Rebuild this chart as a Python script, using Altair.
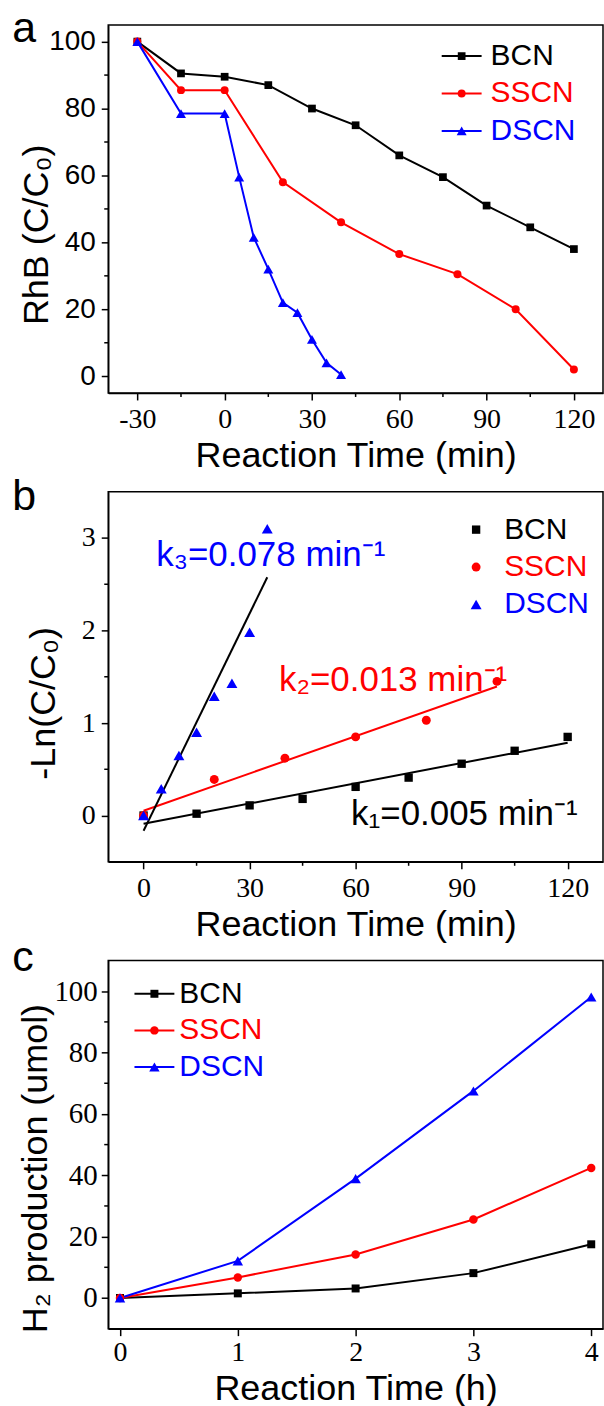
import altair as alt
import pandas as pd

SERIES = ["BCN", "SSCN", "DSCN"]
COLORS = ["#000000", "#ff0000", "#0000ff"]
SHAPES = ["square", "circle", "triangle-up"]

SANS = "Liberation Sans"
SERIF = "Liberation Serif"

# (a) RhB concentration, C/C0 (%) vs. time (min)
a_t_bcn = [-30, -15, 0, 15, 30, 45, 60, 75, 90, 105, 120]
a_c_bcn = [100, 90.5, 89.5, 87, 80, 75, 66, 59.5, 51, 44.5, 38]
a_t_sscn = [-30, -15, 0, 20, 40, 60, 80, 100, 120]
a_c_sscn = [100, 85.5, 85.5, 58, 46, 36.5, 30.5, 20, 2]
a_t_dscn = [-30, -15, 0, 5, 10, 15, 20, 25, 30, 35, 40]
a_c_dscn = [100, 78.5, 78.5, 59.5, 41.5, 32, 22, 19, 11, 4, 0.5]

# (b) -ln(C/C0) vs. time (min)
b_t_bcn = [0, 15, 30, 45, 60, 75, 90, 105, 120]
b_y_bcn = [0, 0.02, 0.11, 0.18, 0.31, 0.41, 0.56, 0.70, 0.85]
b_t_sscn = [0, 20, 40, 60, 80, 100]
b_y_sscn = [0, 0.39, 0.62, 0.85, 1.03, 1.45]
b_t_dscn = [0, 5, 10, 15, 20, 25, 30, 35]
b_y_dscn = [0, 0.29, 0.65, 0.90, 1.29, 1.43, 1.98, 3.10]

# rate-constant labels: text, anchor (x, y), colour
k_text = ["k\u2083=0.078 min\u207b\u00b9", "k\u2082=0.013 min\u207b\u00b9", "k\u2081=0.005 min\u207b\u00b9"]
k_x = [3.6, 38.3, 58.7]
k_y = [2.70, 1.345, -0.10]
k_color = ["#0000ff", "#ff0000", "#000000"]

# (c) H2 production (umol) vs. time (h)
c_t = [0, 1, 2, 3, 4]
c_bcn = [0, 1.5, 3.1, 8.1, 17.5]
c_sscn = [0, 6.7, 14.2, 25.6, 42.4]
c_dscn = [0, 12.1, 38.9, 67.5, 98.1]

# axis ticks
a_x_major = [-30, 0, 30, 60, 90, 120]
a_x_minor = [-15, 15, 45, 75, 105]
a_y_major = [0, 20, 40, 60, 80, 100]
a_y_minor = [10, 30, 50, 70, 90]
b_x_major = [0, 30, 60, 90, 120]
b_x_minor = [15, 45, 75, 105]
b_y_major = [0, 1, 2, 3]
b_y_minor = [0.5, 1.5, 2.5]
c_x_major = [0, 1, 2, 3, 4]
c_y_major = [0, 20, 40, 60, 80, 100]
c_y_minor = [10, 30, 50, 70, 90]

W = 496
HYPHEN_LABEL = "replace(datum.label, '\u2212', '-')"


def long_df(pairs):
    rows = []
    for name, ts, vs in pairs:
        for t, v in zip(ts, vs):
            rows.append({"series": name, "t": t, "v": v})
    return pd.DataFrame(rows)


def make_x(field, domain, values, title, title_y=74, label_pad=6):
    return alt.X(
        field, type="quantitative",
        scale=alt.Scale(domain=domain, nice=False, zero=False),
        axis=alt.Axis(values=values, title=title, titleY=title_y, titleBaseline="alphabetic",
                      labelFlush=False, labelOverlap=False, labelPadding=label_pad,
                      labelFont=SERIF, labelFontSize=28, labelExpr=HYPHEN_LABEL),
    )


def make_y(field, domain, values, title, title_x, title_y, label_font, label_size, label_pad):
    return alt.Y(
        field, type="quantitative",
        scale=alt.Scale(domain=domain, nice=False, zero=False),
        axis=alt.Axis(values=values, title=title, titleX=title_x, titleY=title_y,
                      titleAngle=-90, titleAlign="center", titleBaseline="alphabetic",
                      labelFlush=False, labelOverlap=False, labelPadding=label_pad,
                      labelFont=label_font, labelFontSize=label_size),
    )


color_enc = alt.Color("series:N", scale=alt.Scale(domain=SERIES, range=COLORS), legend=None)
shape_enc = alt.Shape("series:N", scale=alt.Scale(domain=SERIES, range=SHAPES), legend=None)


def size_expr(sizes):
    return ("datum.series === 'BCN' ? %g : datum.series === 'SSCN' ? %g : %g"
            % (sizes[0], sizes[1], sizes[2]))


def markers(base, xe, ye, sizes):
    return (base.transform_calculate(sz=size_expr(sizes))
            .mark_point(filled=True, opacity=1)
            .encode(x=xe("t"), y=ye("v"), color=color_enc, shape=shape_enc,
                    size=alt.Size("sz:Q", scale=None, legend=None)))


def minor_ticks(xe_fn, ye_fn, xminor, yminor, h):
    layers = []
    if xminor:
        layers.append(
            alt.Chart(pd.DataFrame({"v": xminor})).mark_rule(color="black", strokeWidth=1.5)
            .encode(x=xe_fn("v"), y=alt.value(h), y2=alt.value(h + 4))
        )
    if yminor:
        layers.append(
            alt.Chart(pd.DataFrame({"v": yminor})).mark_rule(color="black", strokeWidth=1.5)
            .encode(y=ye_fn("v"), x=alt.value(0), x2=alt.value(-4))
        )
    return layers


def legend_layers(x_line0, x_line1, x_mark, x_text, rows, with_line, sizes):
    layers = []
    for i, s in enumerate(SERIES):
        d = pd.DataFrame({"series": [s]})
        yv = rows[i]
        if with_line:
            layers.append(alt.Chart(d).mark_rule(color=COLORS[i], strokeWidth=2)
                          .encode(x=alt.value(x_line0), x2=alt.value(x_line1), y=alt.value(yv)))
        layers.append(alt.Chart(d).mark_point(shape=SHAPES[i], filled=True, opacity=1,
                                              size=sizes[i], color=COLORS[i])
                      .encode(x=alt.value(x_mark), y=alt.value(yv)))
        layers.append(alt.Chart(d).mark_text(align="left", baseline="middle", font=SANS,
                                             fontSize=30, color=COLORS[i])
                      .encode(x=alt.value(x_text), y=alt.value(yv), text="series:N"))
    return layers


def panel_label(letter, yv):
    return (alt.Chart(pd.DataFrame({"p": [letter]}))
            .mark_text(align="left", baseline="alphabetic", font=SANS, fontSize=43, color="black")
            .encode(x=alt.value(-96.2), y=alt.value(yv), text="p:N"))


# ---------- panel a ----------
HA = 369
SIZES_A = [60, 64, 100]
xa = lambda f: make_x(f, [-40, 130], a_x_major, "Reaction Time (min)")
ya = lambda f: make_y(f, [-5, 105], a_y_major, "RhB (C/C\u2080)", -60.7, 210, SANS, 28, 6)
df_a = long_df([("BCN", a_t_bcn, a_c_bcn), ("SSCN", a_t_sscn, a_c_sscn), ("DSCN", a_t_dscn, a_c_dscn)])
base_a = alt.Chart(df_a)
lines_a = base_a.mark_line(strokeWidth=2).encode(x=xa("t"), y=ya("v"), color=color_enc, order="t:Q")
panel_a = alt.layer(
    lines_a, markers(base_a, xa, ya, SIZES_A), *minor_ticks(xa, ya, a_x_minor, a_y_minor, HA),
    *legend_layers(334.3, 374.3, 354.3, 383.3, [31.3, 68.8, 106.3], True, SIZES_A),
    panel_label("a", 17.5),
).properties(width=W, height=HA)

# ---------- panel b ----------
HB = 371
SIZES_B = [70, 80, 120]
xb = lambda f: make_x(f, [-10, 130], b_x_major, "Reaction Time (min)")
yb = lambda f: make_y(f, [-0.5, 3.5], b_y_major, "-Ln(C/C\u2080)", -54, 211.7, SERIF, 28, 6)
df_b = long_df([("BCN", b_t_bcn, b_y_bcn), ("SSCN", b_t_sscn, b_y_sscn), ("DSCN", b_t_dscn, b_y_dscn)])
base_b = alt.Chart(df_b)
fits_b = (base_b.transform_regression("t", "v", groupby=["series"], method="linear")
          .transform_calculate(fit_color="datum.series === 'SSCN' ? '#ff0000' : '#000000'")
          .mark_line(strokeWidth=2)
          .encode(x=xb("t"), y=yb("v"), detail="series:N",
                  color=alt.Color("fit_color:N", scale=None)))
df_k = pd.DataFrame({"x": k_x, "y": k_y, "label": k_text, "col": k_color})
k_labels = alt.Chart(df_k).mark_text(align="left", baseline="alphabetic", font=SANS, fontSize=35).encode(
    x=xb("x"), y=yb("y"), text="label:N", color=alt.Color("col:N", scale=None))
panel_b = alt.layer(
    fits_b, markers(base_b, xb, yb, SIZES_B), k_labels, *minor_ticks(xb, yb, b_x_minor, b_y_minor, HB),
    *legend_layers(0, 0, 368.8, 396.9, [38, 75.5, 113], False, SIZES_B),
    panel_label("b", 18.7),
).properties(width=W, height=HB)

# ---------- panel c ----------
HC = 369
SIZES_C = [64, 72, 110]
xc = lambda f: make_x(f, [-0.1, 4.1], c_x_major, "Reaction Time (h)", 71, 3)
yc = lambda f: make_y(f, [-10, 110], c_y_major, "H\u2082 production (umol)", -61.7, 208, SERIF, 29, 4)
df_c = long_df([("BCN", c_t, c_bcn), ("SSCN", c_t, c_sscn), ("DSCN", c_t, c_dscn)])
base_c = alt.Chart(df_c)
lines_c = base_c.mark_line(strokeWidth=2).encode(x=xc("t"), y=yc("v"), color=color_enc, order="t:Q")
panel_c = alt.layer(
    lines_c, markers(base_c, xc, yc, SIZES_C), *minor_ticks(xc, yc, [], c_y_minor, HC),
    *legend_layers(26.3, 66.3, 46.3, 71.3, [33.3, 70, 106.7], True, SIZES_C),
    panel_label("c", 10),
).properties(width=W, height=HC)

chart = (
    alt.vconcat(panel_a, panel_b, panel_c, spacing=99, bounds="flush")
    .properties(padding={"left": 11.5, "top": 5.2, "right": 0, "bottom": 0})
    .configure_view(stroke="black", strokeWidth=1.5)
    .configure_axis(domainColor="black", domainWidth=1.5, tickColor="black", tickWidth=1.5,
                    tickSize=7, grid=False, labelColor="black", titleColor="black",
                    titleFont=SANS, titleFontSize=36, titleFontWeight="normal")
)

chart.save("out.html", embed_options={"renderer": "svg", "actions": False})
